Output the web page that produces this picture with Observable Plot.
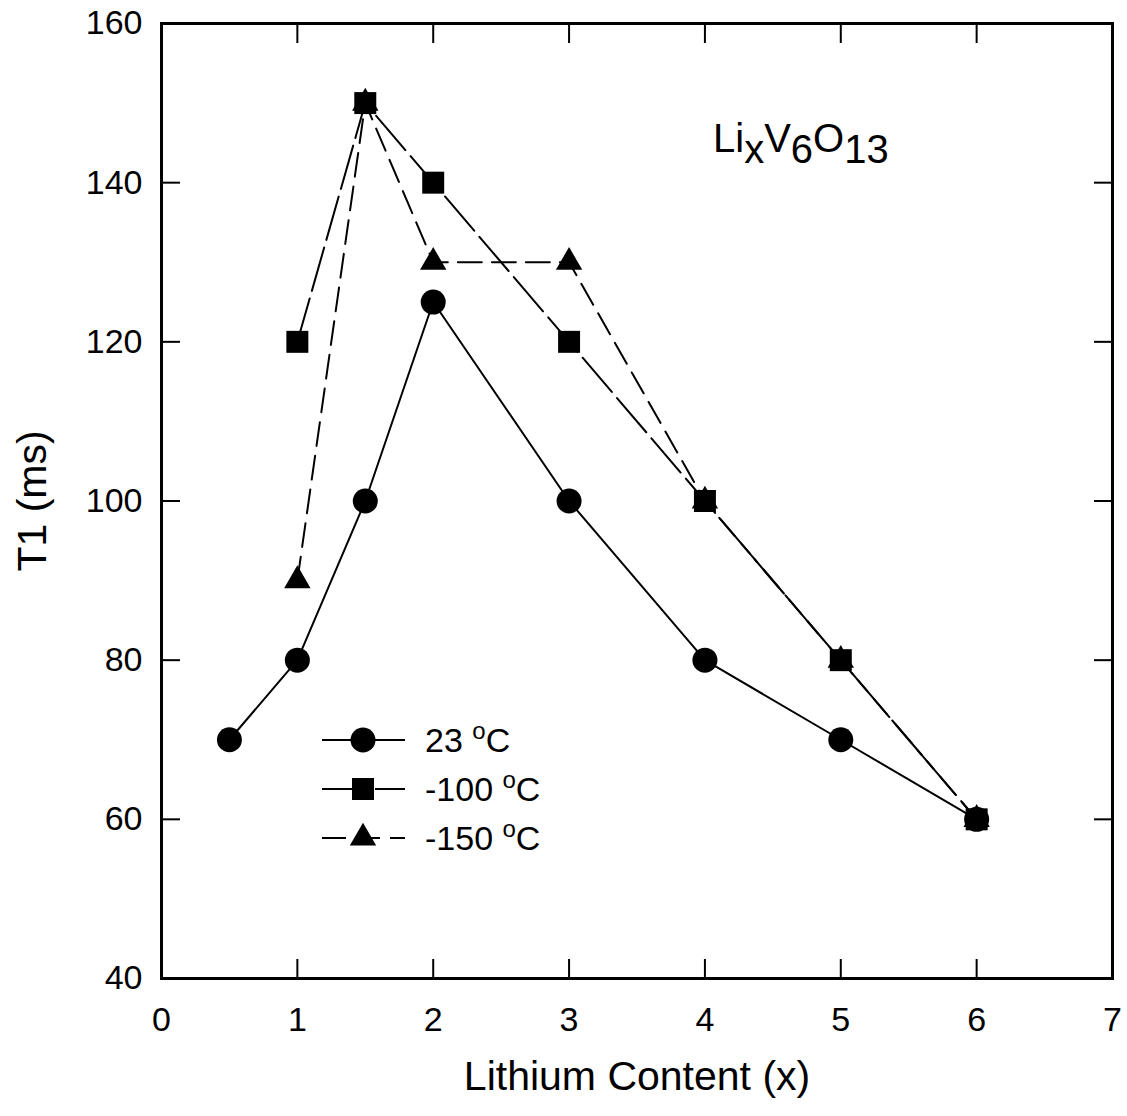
<!DOCTYPE html>
<html>
<head>
<meta charset="utf-8">
<script src="https://cdn.jsdelivr.net/npm/d3@7"></script>
<script src="https://cdn.jsdelivr.net/npm/@observablehq/plot@0.6"></script>
<style>
  body { margin: 0; background: #fff; }
  #chart svg { display: block; }
</style>
</head>
<body>
<div id="chart"></div>
<script>
// T1 relaxation time versus lithium content in LixV6O13, at three temperatures
const lithium23 = [0.5, 1, 1.5, 2, 3, 4, 5, 6];
const t1At23 = [70, 80, 100, 125, 100, 80, 70, 60];

const lithiumM100 = [1, 1.5, 2, 3, 4, 5, 6];
const t1AtM100 = [120, 150, 140, 120, 100, 80, 60];

const lithiumM150 = [1, 1.5, 2, 3, 4, 5, 6];
const t1AtM150 = [90, 150, 130, 130, 100, 80, 60];

const seriesNames = ["23", "-100", "-150"];
const xTicks = [0, 1, 2, 3, 4, 5, 6, 7];
const yTicks = [40, 60, 80, 100, 120, 140, 160];
const xLabel = "Lithium Content (x)";
const yLabel = "T1 (ms)";

const rows = (xs, ys) => xs.map((x, i) => ({x, t1: ys[i]}));
const s23 = rows(lithium23, t1At23);
const sM100 = rows(lithiumM100, t1AtM100);
const sM150 = rows(lithiumM150, t1AtM150);

const FONT = "'Liberation Sans', Arial, Helvetica, sans-serif";
const dash100 = "45,8";
const dash150 = "24,10";
const rCircle = 12.5, rSquare = 12.4, rTriangle = 9.8;
const fmt = d => String(d);
const noText = () => "";

const plot = Plot.plot({
  width: 1127,
  height: 1116,
  marginLeft: 161,
  marginRight: 15,
  marginTop: 23,
  marginBottom: 138,
  style: {fontFamily: FONT, fontSize: "34px", color: "#000", background: "#fff"},
  x: {domain: [0, 7]},
  y: {domain: [40, 160]},
  marks: [
    // tick labels
    Plot.axisX({ticks: xTicks, anchor: "bottom", tickSize: 0, tickPadding: 28, label: null, tickFormat: fmt, fontSize: 34}),
    Plot.axisY({ticks: yTicks, anchor: "left", tickSize: 0, tickPadding: 19, label: null, tickFormat: fmt, fontSize: 34}),
    // inward ticks on all four sides
    Plot.axisX({ticks: xTicks, anchor: "bottom", tickSize: -19, tickFormat: noText, label: null, strokeWidth: 2}),
    Plot.axisX({ticks: xTicks, anchor: "top", tickSize: -19, tickFormat: noText, label: null, strokeWidth: 2}),
    Plot.axisY({ticks: yTicks, anchor: "left", tickSize: -19, tickFormat: noText, label: null, strokeWidth: 2}),
    Plot.axisY({ticks: yTicks, anchor: "right", tickSize: -19, tickFormat: noText, label: null, strokeWidth: 2}),
    Plot.frame({stroke: "#000", strokeWidth: 3}),
    // axis titles
    Plot.text([xLabel], {frameAnchor: "bottom", dy: 98, fontSize: 41, lineAnchor: "middle", textAnchor: "middle", fill: "#000"}),
    Plot.text([yLabel], {frameAnchor: "left", dx: -129, rotate: -90, fontSize: 41, lineAnchor: "middle", textAnchor: "middle", fill: "#000"}),
    // series lines
    Plot.line(s23, {x: "x", y: "t1", stroke: "#000", strokeWidth: 2}),
    Plot.line(sM100, {x: "x", y: "t1", stroke: "#000", strokeWidth: 2, strokeDasharray: dash100}),
    Plot.line(sM150, {x: "x", y: "t1", stroke: "#000", strokeWidth: 2, strokeDasharray: dash150}),
    // markers
    Plot.dot(s23, {x: "x", y: "t1", symbol: "circle", r: rCircle, fill: "#000", stroke: "none"}),
    Plot.dot(sM100, {x: "x", y: "t1", symbol: "square", r: rSquare, fill: "#000", stroke: "none"}),
    Plot.dot(sM150, {x: "x", y: "t1", symbol: "triangle", r: rTriangle, fill: "#000", stroke: "none"})
  ]
});

const svg = d3.select(plot);

// compound name
const formula = svg.append("text")
  .attr("x", 713).attr("y", 152)
  .attr("text-anchor", "start")
  .attr("font-family", FONT).attr("font-size", 40).attr("fill", "#000");
[["Li", 0], ["x", 11], ["V", -11], ["6", 11], ["O", -11], ["13", 11]].forEach(([s, dy]) => {
  formula.append("tspan").attr("dy", dy).text(s);
});

// legend
const legendRows = [
  {name: seriesNames[0], symbol: d3.symbolCircle, r: rCircle, dash: null, y: 740},
  {name: seriesNames[1], symbol: d3.symbolSquare, r: rSquare, dash: dash100, y: 789},
  {name: seriesNames[2], symbol: d3.symbolTriangle, r: rTriangle, dash: dash150, y: 838}
];
const legend = svg.append("g");
legendRows.forEach(d => {
  legend.append("line")
    .attr("x1", 322).attr("x2", 405).attr("y1", d.y).attr("y2", d.y)
    .attr("stroke", "#000").attr("stroke-width", 2)
    .attr("stroke-dasharray", d.dash);
  legend.append("path")
    .attr("transform", `translate(363,${d.y})`)
    .attr("d", d3.symbol(d.symbol, d.r * d.r * Math.PI)())
    .attr("fill", "#000");
  const t = legend.append("text")
    .attr("x", 425).attr("y", d.y + 12)
    .attr("text-anchor", "start")
    .attr("font-family", FONT).attr("font-size", 34).attr("fill", "#000");
  t.append("tspan").text(d.name + " ");
  t.append("tspan").attr("dy", -13).attr("font-size", 24).text("o");
  t.append("tspan").attr("dy", 13).text("C");
});

document.getElementById("chart").append(plot);
</script>
</body>
</html>
